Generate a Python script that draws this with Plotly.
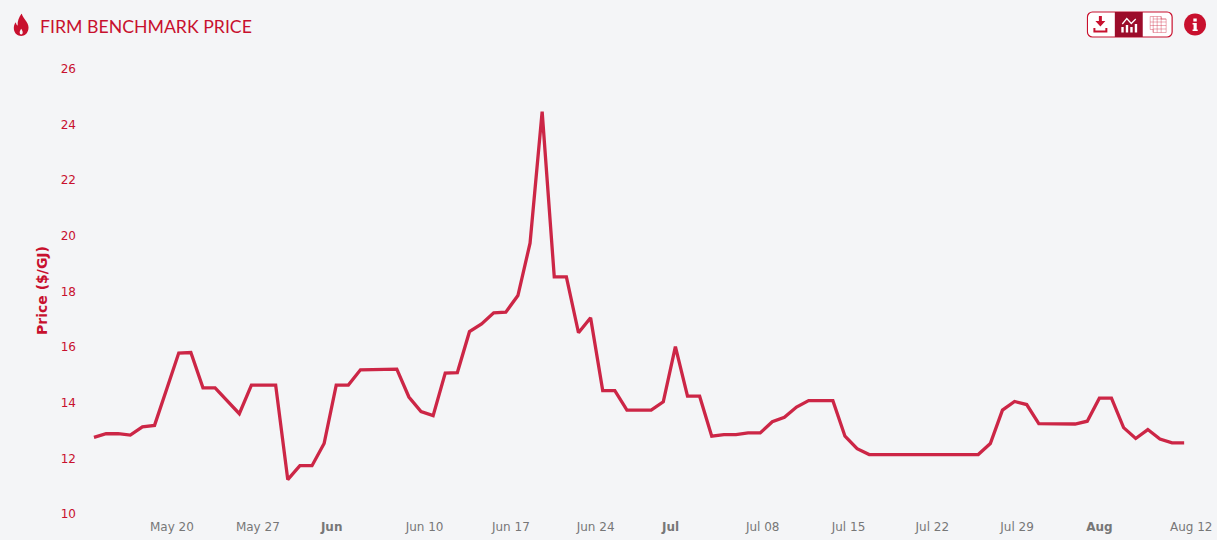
import base64
from datetime import date, timedelta

import plotly.graph_objects as go

START_DAY = date(2024, 5, 14)
prices = [
    12.72, 12.85, 12.85, 12.80, 13.10, 13.15, 14.45, 15.75, 15.77, 14.50,
    14.50, 14.02, 13.57, 14.60, 14.60, 14.60, 11.20, 11.70, 11.70, 12.50,
    14.60, 14.60, 15.15, 15.15, 15.17, 15.17, 14.17, 13.65, 13.50, 15.03,
    15.05, 16.52, 16.80, 17.20, 17.22, 17.82, 19.70, 24.43, 18.49, 18.49,
    16.48, 17.02, 14.40, 14.40, 13.70, 13.70, 13.70, 14.00, 15.98, 14.20,
    14.20, 12.76, 12.82, 12.82, 12.88, 12.88, 13.28, 13.44, 13.81, 14.04,
    14.04, 14.04, 12.76, 12.31, 12.10, 12.10, 12.10, 12.10, 12.10, 12.10,
    12.10, 12.10, 12.10, 12.10, 12.50, 13.70, 14.01, 13.90, 13.21, 13.20,
    13.20, 13.20, 13.30, 14.13, 14.13, 13.07, 12.68, 13.00, 12.66, 12.52,
    12.52,
]
dates = [(START_DAY + timedelta(days=i)).isoformat() for i in range(len(prices))]

# labels sit off the daily points in the original, so ticks carry their own hours
tick_dates = [
    "2024-05-20 10:30", "2024-05-27 12:45", "2024-06-02 15:00", "2024-06-10 07:00",
    "2024-06-17 10:00", "2024-06-24 10:00", "2024-06-30 14:30", "2024-07-08 05:00",
    "2024-07-15 07:00", "2024-07-22 05:00", "2024-07-29 05:00", "2024-08-05 00:00",
    "2024-08-12 14:00",
]
tick_labels = [
    "May 20", "May 27", "<b>Jun</b>", "Jun 10", "Jun 17", "Jun 24", "<b>Jul</b>",
    "Jul 08", "Jul 15", "Jul 22", "Jul 29", "<b>Aug</b>", "Aug 12",
]
y_ticks = [10, 12, 14, 16, 18, 20, 22, 24, 26]

WIDTH, HEIGHT = 1217, 540
LEFT, RIGHT, TOP, BOTTOM = 77, 5, 68, 27
RED = "#c8102e"
LINE_RED = "#cc2646"
BG = "#f4f5f7"


def paper_x(px):
    return (px - LEFT) / (WIDTH - LEFT - RIGHT)


def paper_y(px):
    return (HEIGHT - BOTTOM - px) / (HEIGHT - TOP - BOTTOM)


def svg_image(svg, x, y, w, h):
    uri = "data:image/svg+xml;base64," + base64.b64encode(svg.encode()).decode()
    return dict(source=uri, xref="paper", yref="paper", x=paper_x(x), y=paper_y(y),
                sizex=w / (WIDTH - LEFT - RIGHT), sizey=h / (HEIGHT - TOP - BOTTOM),
                xanchor="left", yanchor="top", sizing="stretch", layer="above")


flame_svg = f"""<svg xmlns="http://www.w3.org/2000/svg" width="16" height="23" viewBox="0 0 18 24" preserveAspectRatio="none">
<path fill="{RED}" fill-rule="evenodd" d="M9.5 0 C10.5 3.5 13 5.5 15 8.5 C17 11.5 17.8 14 17 17 C16 21 13 23.5 9 23.5
C5 23.5 1.6 21 0.8 17 C0.2 14 1 11 3 9 C3.3 11 4 12 5 12.5 C4.6 8 6.5 3.5 9.5 0 Z
M9 16 C8 17.5 7.3 18.6 7.3 19.8 C7.3 21 8 21.8 9 21.8 C10 21.8 10.7 21 10.7 19.8 C10.7 18.6 10 17.5 9 16 Z"/>
</svg>"""

toolbar_svg = f"""<svg xmlns="http://www.w3.org/2000/svg" width="124" height="28" viewBox="0 0 124 28">
<rect x="1" y="1" width="85" height="25" rx="5" fill="#ffffff" stroke="{RED}" stroke-width="1.2"/>
<rect x="28.5" y="1" width="28" height="25" fill="#9c0c2a"/>
<path fill="{RED}" d="M12.5 5 h3 v5 h3.5 l-5 5.5 l-5 -5.5 h3.5 Z M7 17 h2 v2.5 h10 v-2.5 h2 v4.5 h-14 Z"/>
<path fill="#ffffff" d="M35 16 h2.4 v5.5 h-2.4 Z M39.5 14 h2.4 v7.5 h-2.4 Z M44 16 h2.4 v5.5 h-2.4 Z M48.5 13 h2.4 v8.5 h-2.4 Z"/>
<path fill="none" stroke="#ffffff" stroke-width="1.3" d="M36 13 L40.5 7.5 L45 12.5 L49.5 8"/>
<path fill="none" stroke="{RED}" stroke-width="0.7" opacity="0.5" d="M64 5.5 h11 v2.5 h5 v13.5 h-13 v-3 h-3 Z M67 8 h13 M64 11 h16 M64 14.5 h16 M67 18 h13 M67 5.5 v16 M71 5.5 v16 M75 5.5 v16"/>
<circle cx="109" cy="13.5" r="11" fill="{RED}"/>
<path fill="#ffffff" d="M107.3 7.5 h3.4 v3 h-3.4 Z M106.5 12 h4.2 v6.5 h1 v1.5 h-5.2 v-1.5 h1 v-5 h-1 Z"/>
</svg>"""

fig = go.Figure()
fig.add_trace(go.Scatter(x=dates, y=prices, mode="lines",
                         line=dict(color=LINE_RED, width=3.3), hoverinfo="x+y", showlegend=False))

fig.update_layout(
    width=WIDTH, height=HEIGHT,
    margin=dict(l=LEFT, r=RIGHT, t=TOP, b=BOTTOM),
    paper_bgcolor=BG, plot_bgcolor=BG,
    font=dict(family="DejaVu Sans", size=12, color="#777777"),
    xaxis=dict(type="date", range=["2024-05-12 14:24", "2024-08-13 23:15"],
               tickmode="array", tickvals=tick_dates, ticktext=tick_labels, ticks="",
               showgrid=False, zeroline=False, showline=False, tickangle=0,
               ticklabelstandoff=5,
               tickfont=dict(family="DejaVu Sans", size=12, color="#777777")),
    yaxis=dict(range=[10, 26], tickmode="array", tickvals=y_ticks, ticks="",
               showgrid=False, zeroline=False, showline=False, ticklabelshift=1,
               tickfont=dict(family="DejaVu Sans", size=12, color=RED),
               title=dict(text="<b>Price ($/GJ)</b>", standoff=9,
                          font=dict(family="DejaVu Sans", size=14, color=RED))),
    annotations=[dict(text="FIRM BENCHMARK PRICE", xref="paper", yref="paper",
                      x=paper_x(38), y=paper_y(27), xanchor="left", yanchor="middle",
                      showarrow=False, font=dict(family="Lato", size=17.7, color=RED))],
    images=[svg_image(flame_svg, 13, 13.5, 16, 23), svg_image(toolbar_svg, 1090, 11, 124, 28)],
)

fig.write_html("out.html", post_script="document.body.style.margin='0';",
               config=dict(displayModeBar=False))
